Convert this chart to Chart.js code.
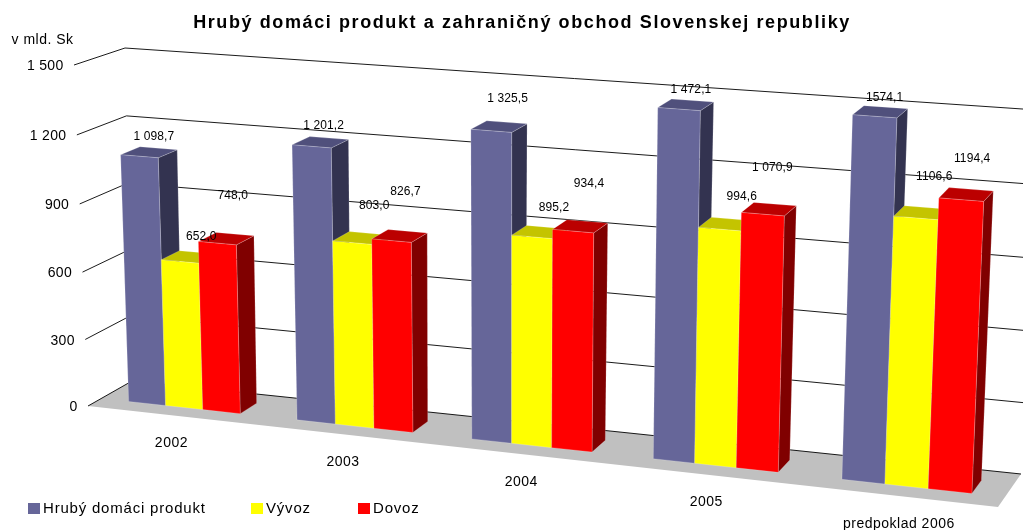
<!DOCTYPE html>
<html lang="sk">
<head>
<meta charset="utf-8">
<style>html,body{margin:0;padding:0;background:#fff}canvas{display:block}</style>
<script src="https://cdn.jsdelivr.net/npm/chart.js@4/dist/chart.umd.min.js"></script>
</head>
<body>
<canvas id="c" width="1023" height="530"></canvas>
<script>
// ---- data ----
const categories = ['2002', '2003', '2004', '2005', 'predpoklad 2006'];
const hdp = [1098.7, 1201.2, 1325.5, 1472.1, 1574.1];
const vyvoz = [652.0, 803.0, 895.2, 994.6, 1106.6];
const dovoz = [748.0, 826.7, 934.4, 1070.9, 1194.4];
const yMax = 1500;
const yStep = 300;

// ---- style / layout (not data) ----
const FONT = '"Liberation Sans", Arial, sans-serif';
const frontColors = ['#666699', '#ffff00', '#ff0000'];
const topColors = ['#50507c', '#c4c400', '#bb0000'];
const sideColors = ['#333350', '#808000', '#800000'];
// perspective box: front plane (d=0) and back plane (d=1) corners on the canvas
const frontQuad = { bl: [88, 406], br: [998, 507], tr: [1014, 134], tl: [74, 65] };
const backQuad = { bl: [132, 381], br: [1021, 474], tr: [1037, 110], tl: [125, 48] };
const barDepth = [0.3, 0.7];
// value-label nudges from the top-front centre of each bar
const hdpLabelNudge = [[14.5, -20.5], [12, -21], [16.5, -33], [12, -20], [10, -19.7]];
const vyvozLabelNudge = [[21.3, -25.5], [22, -38], [22, -30], [22, -33], [18.5, -41.7]];
const dovozLabelNudge = [[15.5, -48], [14, -49.5], [16, -48.5], [9.7, -47], [11, -41.3]];
const labelNudges = [hdpLabelNudge, vyvozLabelNudge, dovozLabelNudge];
const legendBoxX = [28, 251, 358];

function squareToQuad(q) {
  const [x0, y0] = q.bl, [x1, y1] = q.br, [x2, y2] = q.tr, [x3, y3] = q.tl;
  const dx1 = x1 - x2, dx2 = x3 - x2, sx = x0 - x1 + x2 - x3;
  const dy1 = y1 - y2, dy2 = y3 - y2, sy = y0 - y1 + y2 - y3;
  const det = dx1 * dy2 - dx2 * dy1;
  const g = (sx * dy2 - dx2 * sy) / det;
  const h = (dx1 * sy - sx * dy1) / det;
  const a = x1 - x0 + g * x1, b = x3 - x0 + h * x3, c = x0;
  const d = y1 - y0 + g * y1, e = y3 - y0 + h * y3, f = y0;
  return (u, v) => {
    const w = g * u + h * v + 1;
    return [(a * u + b * v + c) / w, (d * u + e * v + f) / w];
  };
}
const H0 = squareToQuad(frontQuad);
const H1 = squareToQuad(backQuad);
function P(u, v, d) {
  const a = H0(u, v), b = H1(u, v);
  return [a[0] + (b[0] - a[0]) * d, a[1] + (b[1] - a[1]) * d];
}
function poly(ctx, pts, fill, edge) {
  ctx.beginPath();
  pts.forEach((p, i) => i ? ctx.lineTo(p[0], p[1]) : ctx.moveTo(p[0], p[1]));
  ctx.closePath();
  ctx.fillStyle = fill;
  ctx.fill();
  if (edge) {
    ctx.strokeStyle = 'rgba(255,255,255,0.28)';
    ctx.lineWidth = 0.7;
    ctx.stroke();
  }
}
function fmtTick(v) {
  return String(v).replace(/\B(?=(\d{3})+$)/g, ' ');
}
function fmtValue(v, cat) {
  const s = v.toFixed(1).replace('.', ',');
  return cat === categories.length - 1 ? s : s.replace(/^(\d)(\d{3})/, '$1 $2');
}
function text(ctx, s, x, y, font, spacing, align) {
  ctx.font = font;
  ctx.letterSpacing = spacing;
  ctx.textAlign = align || 'center';
  ctx.textBaseline = 'middle';
  ctx.fillStyle = '#000';
  ctx.fillText(s, x, y + 0.7);
}

const box3d = {
  id: 'box3d',
  afterLayout(chart) {
    const t = chart.titleBlock;
    if (t && !t._spaced) {
      const draw = t.draw;
      t.draw = function () {
        const c = this.ctx;
        c.save();
        c.letterSpacing = '1.6px';
        draw.apply(this, arguments);
        c.restore();
      };
      t._spaced = true;
    }
  },
  beforeDatasetsDraw(chart) {
    const ctx = chart.ctx, xs = chart.scales.x, ys = chart.scales.y;
    // bars taller than the axis are cut off at its top, as the library's clip does
    const vOf = px => Math.min(1, (ys.bottom - px) / ys.height);
    const uOf = px => (px - xs.left) / xs.width;
    ctx.save();

    // floor
    poly(ctx, [P(0, 0, 0), P(0, 0, 1), P(1, 0, 1), P(1, 0, 0)], '#c0c0c0');

    // grid lines: left wall and back wall
    ctx.strokeStyle = '#000';
    ctx.lineWidth = 0.9;
    ys.ticks.forEach(t => {
      const v = vOf(ys.getPixelForValue(t.value));
      const a = P(0, v, 0), b = P(0, v, 1), c = P(1, v, 1);
      ctx.beginPath();
      ctx.moveTo(a[0], a[1]);
      ctx.lineTo(b[0], b[1]);
      ctx.lineTo(c[0], c[1]);
      ctx.stroke();
      text(ctx, t.label, a[0] - 10.5, a[1] + 0.5, '14px ' + FONT, '0.3px', 'right');
    });

    // bars
    const metas = chart.data.datasets.map((_, i) => chart.getDatasetMeta(i));
    const [d0, d1] = barDepth;
    categories.forEach((_, ci) => {
      metas.forEach((meta, si) => {
        const bar = meta.data[ci];
        const uL = uOf(bar.x - bar.width / 2), uR = uOf(bar.x + bar.width / 2);
        const vT = vOf(bar.y), vB = vOf(bar.base);
        poly(ctx, [P(uR, vB, d0), P(uR, vB, d1), P(uR, vT, d1), P(uR, vT, d0)], sideColors[si], true);
        poly(ctx, [P(uL, vT, d0), P(uL, vT, d1), P(uR, vT, d1), P(uR, vT, d0)], topColors[si], true);
        poly(ctx, [P(uL, vB, d0), P(uR, vB, d0), P(uR, vT, d0), P(uL, vT, d0)], frontColors[si], true);
      });
    });

    // value labels
    metas.forEach((meta, si) => {
      const values = chart.data.datasets[si].data;
      meta.data.forEach((bar, ci) => {
        const p = P(uOf(bar.x), vOf(bar.y), d0);
        const n = labelNudges[si][ci];
        text(ctx, fmtValue(values[ci], ci), p[0] + n[0], p[1] + n[1], '12px ' + FONT, '0.1px');
      });
    });

    // category labels
    categories.forEach((c, ci) => {
      const p = P(uOf(xs.getPixelForTick(ci)), 0, 0);
      text(ctx, c, p[0], p[1] + 27, '14px ' + FONT, '0.5px');
    });

    // axis caption
    text(ctx, 'v mld. Sk', 11.5, 39, '14px ' + FONT, '0.5px', 'left');

    // legend
    chart.data.datasets.forEach((ds, si) => {
      ctx.fillStyle = frontColors[si];
      ctx.fillRect(legendBoxX[si], 503, 12, 11);
      text(ctx, ds.label, legendBoxX[si] + 15, 508, '15px ' + FONT, '0.8px', 'left');
    });

    ctx.restore();
    return false;
  }
};

new Chart(document.getElementById('c'), {
  type: 'bar',
  data: {
    labels: categories,
    datasets: [
      { label: 'Hrubý domáci produkt', data: hdp, backgroundColor: frontColors[0] },
      { label: 'Vývoz', data: vyvoz, backgroundColor: frontColors[1] },
      { label: 'Dovoz', data: dovoz, backgroundColor: frontColors[2] }
    ]
  },
  options: {
    responsive: false,
    animation: false,
    layout: { padding: { left: 21 } },
    categoryPercentage: 2 / 3,
    barPercentage: 1,
    plugins: {
      legend: { display: false },
      tooltip: { enabled: false },
      title: {
        display: true,
        text: 'Hrubý domáci produkt a zahraničný obchod Slovenskej republiky',
        color: '#000',
        font: { family: FONT, size: 18, weight: 'bold' },
        padding: { top: 12, bottom: 10 }
      }
    },
    scales: {
      x: {
        offset: true,
        grid: { display: false },
        border: { display: false },
        ticks: { display: false, autoSkip: false }
      },
      y: {
        min: 0,
        max: yMax,
        grid: { display: false },
        border: { display: false },
        ticks: { display: false, stepSize: yStep, autoSkip: false, callback: fmtTick }
      }
    }
  },
  plugins: [box3d]
});
</script>
</body>
</html>
